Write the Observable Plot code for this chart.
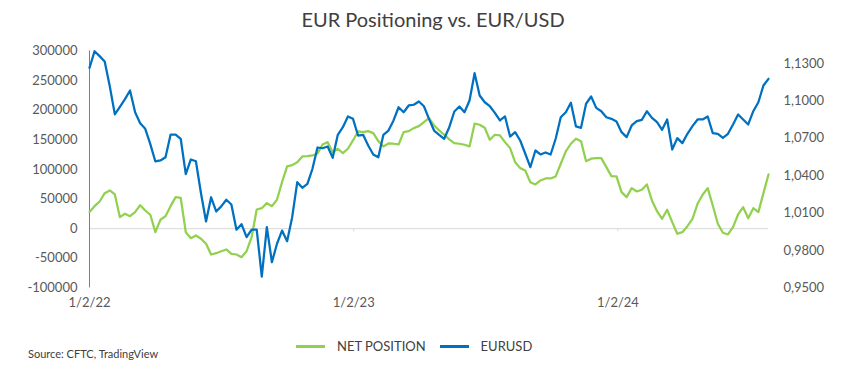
<!DOCTYPE html>
<html>
<head>
<meta charset="utf-8">
<script src="https://cdn.jsdelivr.net/npm/d3@7"></script>
<script src="https://cdn.jsdelivr.net/npm/@observablehq/plot@0.6"></script>
<style>
  html, body { margin: 0; padding: 0; background: #ffffff; }
  body { font-family: Lato, "Open Sans", sans-serif; }
  #wrap { position: relative; width: 866px; height: 384px; overflow: hidden; }
  #title { position: absolute; top: 7px; left: 0; width: 866px; text-align: center;
           font-size: 20px; line-height: 24px; color: #404040; }
  #chart { position: absolute; top: 36px; left: 0; }
  #legend { position: absolute; top: 337px; left: 296px; height: 18px; display: flex;
            align-items: center; font-size: 13px; color: #404040; white-space: nowrap; }
  #legend .sw { display: inline-block; width: 29px; height: 3px; margin-right: 12px; }
  #legend .item { display: flex; align-items: center; margin-right: 14px; }
  #source { position: absolute; left: 28px; top: 347px; font-size: 11px; line-height: 14px; color: #404040; }
</style>
</head>
<body>
<div id="wrap">
  <div id="title">EUR Positioning vs. EUR/USD</div>
  <div id="chart"></div>
  <div id="legend"></div>
  <div id="source">Source: CFTC, TradingView</div>
</div>
<script>
const firstWeek = "2022-01-02";
const netPosition = [
  28200, 38000, 45900, 60000, 64500, 57800, 19400, 25200, 21100, 27900,
  39700, 30700, 23500, -5900, 15000, 21100, 38000, 53200, 52200, -5900,
  -16000, -11500, -17000, -25500, -43600, -41400, -38200, -35100, -42400, -43600,
  -48100, -38000, -14400, 32400, 34600, 43100, 38000, 48800, 78500, 105100,
  107300, 112300, 122000, 122500, 123600, 127000, 142200, 146100, 129200, 135000,
  127500, 135000, 149000, 164200, 163000, 164700, 161300, 147800, 138900, 143900,
  143400, 142200, 163000, 164700, 169800, 173100, 179900, 186700, 174300, 165900,
  158600, 150700, 144400, 143400, 141700, 138900, 177200, 175500, 170400, 150200,
  158600, 157400, 146100, 136000, 112300, 102200, 98300, 78500, 74700, 81400,
  84800, 84800, 88200, 109600, 130400, 143400, 151900, 147800, 114000, 118100,
  119100, 119100, 103900, 88700, 88200, 61700, 53200, 68400, 62800, 65700,
  74700, 47600, 29600, 16700, 31900, 11000, -8600, -5900, 4200, 16700,
  42100, 57300, 68400, 39200, 8300, -6900, -9800, 2500, 24000, 36300,
  17700, 34600, 27900, 60000, 91600
];
const eurusd = [
  1.1265, 1.1398, 1.1359, 1.1316, 1.1117, 1.0892, 1.0952, 1.1014, 1.1083, 1.0909,
  1.0821, 1.0776, 1.0653, 1.0514, 1.0522, 1.0548, 1.0729, 1.0730, 1.0696, 1.0412,
  1.0530, 1.0516, 1.0259, 1.0033, 1.0227, 1.0113, 1.0154, 1.0207, 1.0169, 0.9967,
  1.0011, 0.9907, 0.9968, 0.9968, 0.9591, 0.9987, 0.9706, 0.9854, 0.9960, 0.9875,
  1.0067, 1.0348, 1.0303, 1.0335, 1.0455, 1.0626, 1.0620, 1.0634, 1.0543, 1.0728,
  1.0789, 1.0875, 1.0856, 1.0722, 1.0728, 1.0642, 1.0570, 1.0548, 1.0728, 1.0762,
  1.0843, 1.0949, 1.0909, 1.0963, 1.0969, 1.0995, 1.0957, 1.0856, 1.0762, 1.0728,
  1.0696, 1.0789, 1.0915, 1.0955, 1.0909, 1.1003, 1.1222, 1.1043, 1.0989, 1.0957,
  1.0904, 1.0843, 1.0875, 1.0714, 1.0749, 1.0682, 1.0576, 1.0468, 1.0602, 1.0570,
  1.0586, 1.0570, 1.0696, 1.0869, 1.0909, 1.0985, 1.0795, 1.0784, 1.0977, 1.1035,
  1.0944, 1.0917, 1.0869, 1.0856, 1.0835, 1.0749, 1.0709, 1.0803, 1.0837, 1.0848,
  1.0917, 1.0864, 1.0829, 1.0768, 1.0851, 1.0610, 1.0701, 1.0661, 1.0736, 1.0797,
  1.0851, 1.0851, 1.0875, 1.0741, 1.0736, 1.0704, 1.0736, 1.0811, 1.0891, 1.0851,
  1.0811, 1.0917, 1.0989, 1.1123, 1.1177
];
const leftTicks = [-100000, -50000, 0, 50000, 100000, 150000, 200000, 250000, 300000];
const rightTicks = [0.95, 0.98, 1.01, 1.04, 1.07, 1.10, 1.13];
const xTickLabels = ["1/2/22", "1/2/23", "1/2/24"];
const seriesNames = ["NET POSITION", "EURUSD"];
const seriesColors = ["#92D050", "#0070C0"];

// ---- scales ----
const leftDomain = [-100000, 300000];
const rightDomain = [0.95, 1.14];
const toLeft = r => leftDomain[0] + (r - rightDomain[0]) / (rightDomain[1] - rightDomain[0]) * (leftDomain[1] - leftDomain[0]);

const parse = d3.utcParse("%-m/%-d/%y");
const start = d3.utcParse("%Y-%m-%d")(firstWeek);
const rows = netPosition.map((v, i) => ({
  date: d3.utcDay.offset(start, 7 * i),
  net: v,
  fx: eurusd[i]
}));
const xTicks = xTickLabels.map(parse);
const fmtRight = r => d3.format(".4f")(r).replace(".", ",");

const textColor = "#595959";
const chart = Plot.plot({
  width: 866,
  height: 276,
  marginLeft: 89,
  marginRight: 98,
  marginTop: 14.5,
  marginBottom: 24.6,
  style: { fontFamily: "Lato, 'Open Sans', sans-serif", fontSize: "13px", background: "#fff" },
  x: { type: "utc", domain: [rows[0].date, rows[rows.length - 1].date] },
  y: { domain: leftDomain, nice: false },
  marks: [
    Plot.ruleY([0], { stroke: "#d9d9d9", strokeWidth: 1 }),
    Plot.ruleX(xTicks.slice(1), { y1: 0, y2: -5500, stroke: "#d9d9d9" }),
    Plot.ruleX([rows[0].date], { y1: leftDomain[0], y2: leftDomain[1], stroke: "#3d8fcc", strokeWidth: 1 }),
    Plot.line(rows, { x: "date", y: "net", stroke: seriesColors[0], strokeWidth: 2.25, strokeLinejoin: "round" }),
    Plot.line(rows, { x: "date", y: d => toLeft(d.fx), stroke: seriesColors[1], strokeWidth: 2.25, strokeLinejoin: "round" }),
    Plot.axisY({ ticks: leftTicks, tickSize: 0, tickPadding: 12, tickFormat: d => String(d), fill: textColor, label: null }),
    Plot.axisY({ anchor: "right", ticks: rightTicks.map(toLeft), tickSize: 0, tickPadding: 15,
                 tickFormat: (d, i) => fmtRight(rightTicks[i]), textAnchor: "start", fill: textColor, label: null }),
    Plot.axisX({ ticks: xTicks, tickSize: 0, tickPadding: 10, tickFormat: (d, i) => xTickLabels[i], fill: textColor, label: null })
  ]
});
document.getElementById("chart").appendChild(chart);

const legend = document.getElementById("legend");
seriesNames.forEach((name, i) => {
  const item = document.createElement("div");
  item.className = "item";
  const sw = document.createElement("span");
  sw.className = "sw";
  sw.style.background = seriesColors[i];
  const label = document.createElement("span");
  label.textContent = name;
  item.appendChild(sw);
  item.appendChild(label);
  legend.appendChild(item);
});
</script>
</body>
</html>
